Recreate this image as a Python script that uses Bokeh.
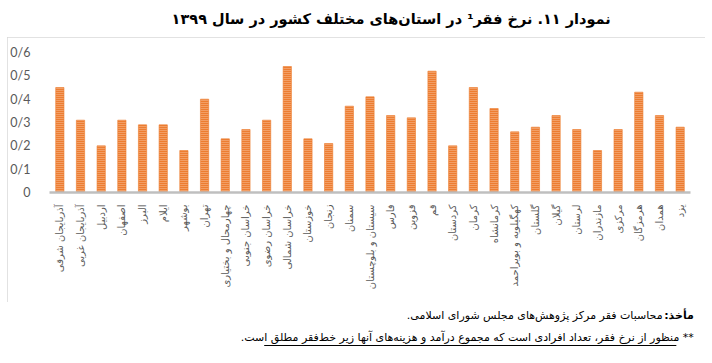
import math
from bokeh.plotting import figure
from bokeh.layouts import column
from bokeh.models import FixedTicker, Range1d, FactorRange
from bokeh.core.properties import value
from bokeh.embed import file_html
from bokeh.resources import INLINE

provinces = [
    "آذربایجان شرقی", "آذربایجان غربی", "اردبیل", "اصفهان", "البرز", "ایلام",
    "بوشهر", "تهران", "چهارمحال و بختیاری", "خراسان جنوبی", "خراسان رضوی",
    "خراسان شمالی", "خوزستان", "زنجان", "سمنان", "سیستان و بلوچستان", "فارس",
    "قزوین", "قم", "کردستان", "کرمان", "کرمانشاه", "کهگیلویه و بویراحمد",
    "گلستان", "گیلان", "لرستان", "مازندران", "مرکزی", "هرمزگان", "همدان", "یزد",
]
poverty_rate = [
    0.45, 0.31, 0.20, 0.31, 0.29, 0.29,
    0.18, 0.40, 0.23, 0.27, 0.31,
    0.54, 0.23, 0.21, 0.37, 0.41, 0.33,
    0.32, 0.52, 0.20, 0.45, 0.36, 0.26,
    0.28, 0.33, 0.27, 0.18, 0.27, 0.43, 0.33, 0.28,
]
y_ticks = [0.0, 0.1, 0.2, 0.3, 0.4, 0.5, 0.6]
y_tick_labels = ["0", "0/1", "0/2", "0/3", "0/4", "0/5", "0/6"]

RLM = "\u200f"
title_text = RLM + "نمودار ۱۱. نرخ فقر¹ در استان\u200cهای مختلف کشور در سال ۱۳۹۹" + RLM
source_bold = RLM + "مأخذ:" + RLM
source_text = RLM + "محاسبات فقر مرکز پژوهش\u200cهای مجلس شورای اسلامی." + RLM
note_text = RLM + "** منظور از نرخ فقر، تعداد افرادی است که مجموع درآمد و هزینه\u200cهای آنها زیر خط\u200cفقر مطلق است." + RLM

ORANGE = "#ED7D31"
PFONT = value("DejaVu Sans")
W = 712


def blank(height):
    f = figure(
        width=W, height=height, x_range=Range1d(0, W), y_range=Range1d(height, 0),
        x_axis_type=None, y_axis_type=None, output_backend="svg",
        toolbar_location=None, min_border=0,
    )
    f.outline_line_color = None
    f.background_fill_color = "white"
    f.border_fill_color = "white"
    return f


# ---- title strip (top 37 px)
ft = blank(37)
ft.text(x=[379], y=[18], text=[title_text], text_align="center", text_baseline="middle",
        text_font=PFONT, text_font_style=value("bold"), text_font_size=value("14.5px"),
        text_color="black")

# ---- main chart (boxed)
p = figure(
    x_range=FactorRange(*provinces, range_padding=0),
    y_range=Range1d(0, 0.6),
    width=698, height=265, margin=(0, 0, 0, 7),
    output_backend="svg", toolbar_location=None,
    min_border_left=40, min_border_right=15,
    min_border_top=15, min_border_bottom=110,
    styles={"outline": "1px solid #D9D9D9", "outline-offset": "-1px"},
)
p.outline_line_color = None
p.background_fill_color = "white"
p.border_fill_color = "white"
p.xgrid.grid_line_color = None
p.ygrid.grid_line_color = None

p.vbar(
    x=provinces, top=poverty_rate, width=0.4,
    fill_color=ORANGE, line_color=ORANGE, line_width=0.6,
    hatch_pattern="-", hatch_color="white", hatch_scale=2, hatch_weight=0.6, hatch_alpha=0.85,
)

p.yaxis.ticker = FixedTicker(ticks=y_ticks)
p.yaxis.major_label_overrides = dict(zip(y_ticks, y_tick_labels))
p.yaxis.axis_line_color = None
p.yaxis.major_tick_line_color = None
p.yaxis.minor_tick_line_color = None
p.yaxis.major_label_text_font = "Lato"
p.yaxis.major_label_text_font_size = "12.5px"
p.yaxis.major_label_text_color = "#595959"
p.yaxis.major_label_standoff = 13

p.xaxis.major_label_orientation = math.pi / 2
p.xaxis.major_tick_line_color = None
p.xaxis.minor_tick_line_color = None
p.xaxis.axis_line_color = "#BFBFBF"
p.xaxis.axis_line_width = 2.5
p.xaxis.major_label_text_font = "DejaVu Sans"
p.xaxis.major_label_text_font_size = "10px"
p.xaxis.major_label_text_color = "#595959"
p.xaxis.major_label_standoff = 6

# ---- notes strip (bottom 61 px)
fn = blank(61)
fn.text(x=[708], y=[13], text=[source_bold], text_align="right", text_baseline="middle",
        text_font=PFONT, text_font_style=value("bold"), text_font_size=value("11px"),
        text_color="black")
fn.text(x=[674], y=[13], text=[source_text], text_align="right", text_baseline="middle",
        text_font=PFONT, text_font_size=value("11px"), text_color="black")
fn.text(x=[708], y=[35], text=[note_text], text_align="right", text_baseline="middle",
        text_font=PFONT, text_font_size=value("11px"), text_color="black")
fn.segment(x0=[241], y0=[43], x1=[689], y1=[43], line_color="black", line_width=1)

layout = column(ft, p, fn, spacing=0)
open("out.html", "w").write(file_html(layout, INLINE))
